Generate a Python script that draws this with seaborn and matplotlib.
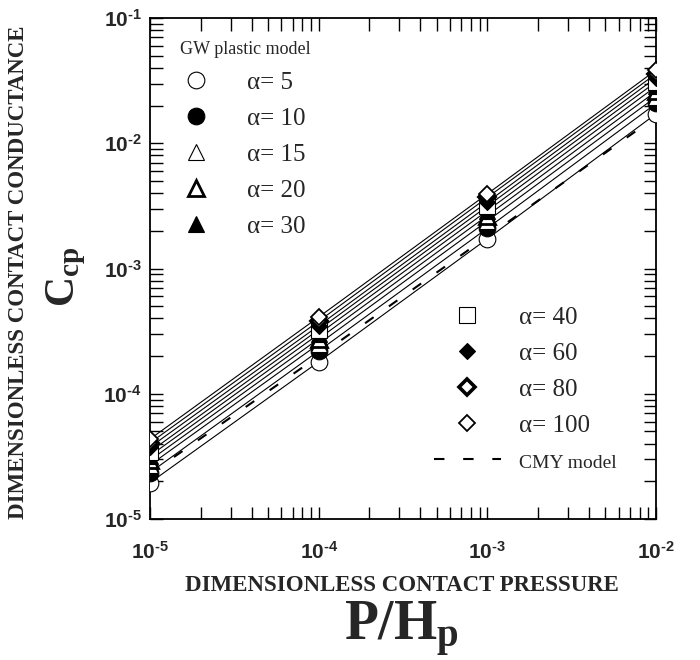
import seaborn as sns
import matplotlib.pyplot as plt
import pandas as pd
from matplotlib.lines import Line2D
from matplotlib.ticker import FuncFormatter
import numpy as np

sns.set_theme(style='ticks')
plt.rcParams['font.family'] = ['Liberation Sans', 'DejaVu Sans']
plt.rcParams['font.weight'] = 'bold'
plt.rcParams['axes.unicode_minus'] = False
plt.rcParams['mathtext.fontset'] = 'custom'
plt.rcParams['mathtext.bf'] = 'Liberation Serif:bold'
plt.rcParams['mathtext.rm'] = 'Liberation Sans:bold'

# Data
pressure = [1e-5, 1e-4, 1e-3, 1e-2]
alphas = [5, 10, 15, 20, 30, 40, 60, 80, 100]
c_a5 = [1.95e-5, 1.80e-4, 1.73e-3, 1.72e-2]
c_a10 = [2.35e-5, 2.20e-4, 2.10e-3, 2.08e-2]
c_a15 = [2.70e-5, 2.50e-4, 2.40e-3, 2.35e-2]
c_a20 = [2.95e-5, 2.75e-4, 2.65e-3, 2.60e-2]
c_a30 = [3.20e-5, 3.00e-4, 2.90e-3, 2.85e-2]
c_a40 = [3.45e-5, 3.25e-4, 3.15e-3, 3.10e-2]
c_a60 = [3.75e-5, 3.50e-4, 3.40e-3, 3.35e-2]
c_a80 = [4.05e-5, 3.80e-4, 3.70e-3, 3.60e-2]
c_a100 = [4.35e-5, 4.10e-4, 3.95e-3, 3.85e-2]
c_cmy = [2.30e-5, 2.00e-4, 1.80e-3, 1.63e-2]

series = [c_a5, c_a10, c_a15, c_a20, c_a30, c_a40, c_a60, c_a80, c_a100]

# marker, size, face, edge width
styles = {
    5: ('o', 12, 'white', 0.8),
    10: ('o', 12, 'black', 0.8),
    15: ('^', 11, 'white', 0.8),
    20: ('^', 11, 'white', 2.0),
    30: ('^', 11, 'black', 0.8),
    40: ('s', 11, 'white', 0.8),
    60: ('D', 8.5, 'black', 0.8),
    80: ('D', 8.5, 'white', 2.6),
    100: ('D', 8.5, 'white', 1.3),
}
dash = (0, (5, 9))

fig = plt.figure(figsize=(7, 6.6), dpi=100)
ax = fig.add_axes([0.2143, 0.2136, 0.723, 0.759])

for a, vals in zip(alphas, series):
    df = pd.DataFrame({'P': pressure, 'C': vals})
    sns.lineplot(data=df, x='P', y='C', ax=ax, color='black', lw=0.8)

df_cmy = pd.DataFrame({'P': pressure, 'C': c_cmy})
sns.lineplot(data=df_cmy, x='P', y='C', ax=ax, color='black', lw=1.5,
             linestyle=dash)

for a, vals in zip(alphas, series):
    m, ms, fc, mew = styles[a]
    ax.plot(pressure, vals, ls='none', marker=m, ms=ms, mfc=fc, mec='black',
            mew=mew, zorder=5)

ax.set_xscale('log')
ax.set_yscale('log')
ax.set_xlim(1e-5, 1e-2)
ax.set_ylim(1e-5, 1e-1)

fmt = FuncFormatter(lambda v, p: r'$\mathdefault{10^{\text{-}%d}}$'
                    % round(-np.log10(v)))
ax.xaxis.set_major_formatter(fmt)
ax.yaxis.set_major_formatter(fmt)

for s in ax.spines.values():
    s.set_linewidth(1.3)
    s.set_color('black')
ax.tick_params(which='both', direction='in', top=True, right=True,
               length=9, width=1, color='black')
ax.tick_params(which='major', labelsize=15)
ax.tick_params(axis='x', which='major', pad=16)
ax.tick_params(axis='y', which='major', pad=6)

serif = ['Liberation Serif', 'DejaVu Serif']
ax.set_xlabel('')
ax.set_ylabel('')
fig.text(0.574, 0.113, 'DIMENSIONLESS CONTACT PRESSURE', family=serif,
         weight='bold', fontsize=16.5, ha='center', va='center')
fig.text(0.574, 0.046, r'$\mathbf{P/H_p}$', fontsize=40, ha='center',
         va='center')
fig.text(0.027, 0.588, 'DIMENSIONLESS CONTACT CONDUCTANCE', family=serif,
         weight='bold', fontsize=16.5, rotation=90, ha='center', va='center')
fig.text(0.094, 0.58, r'$\mathbf{C_{cp}}$', fontsize=30, rotation=90,
         ha='center', va='center')


def handle(a):
    m, ms, fc, mew = styles[a]
    return Line2D([], [], ls='none', marker=m, ms=ms, mfc=fc, mec='black',
                  mew=mew)


lprop = {'family': serif, 'size': 18, 'weight': 'normal'}
h1 = [handle(a) for a in alphas[:5]]
l1 = [f'α= {a}' for a in alphas[:5]]
leg1 = ax.legend(h1, l1, title='    GW plastic model', loc='upper left',
                 bbox_to_anchor=(0.004, 0.975), frameon=False, prop=lprop,
                 title_fontproperties={'family': serif, 'size': 13,
                                       'weight': 'normal'},
                 alignment='left', handlelength=2.68, handletextpad=0.72,
                 labelspacing=0.54, borderaxespad=0)
ax.add_artist(leg1)

h2 = [handle(a) for a in alphas[5:]]
h2.append(Line2D([], [], color='black', lw=1.5, linestyle=dash))
l2 = [f'α= {a}' for a in alphas[5:]] + ['CMY model']
leg2 = ax.legend(h2, l2, loc='upper left', bbox_to_anchor=(0.541, 0.445),
                 frameon=False, prop=lprop, handlelength=2.68,
                 handletextpad=0.72, labelspacing=0.54, borderaxespad=0)
leg2.get_texts()[-1].set_fontsize(14)

plt.savefig('out.png', dpi=100)
